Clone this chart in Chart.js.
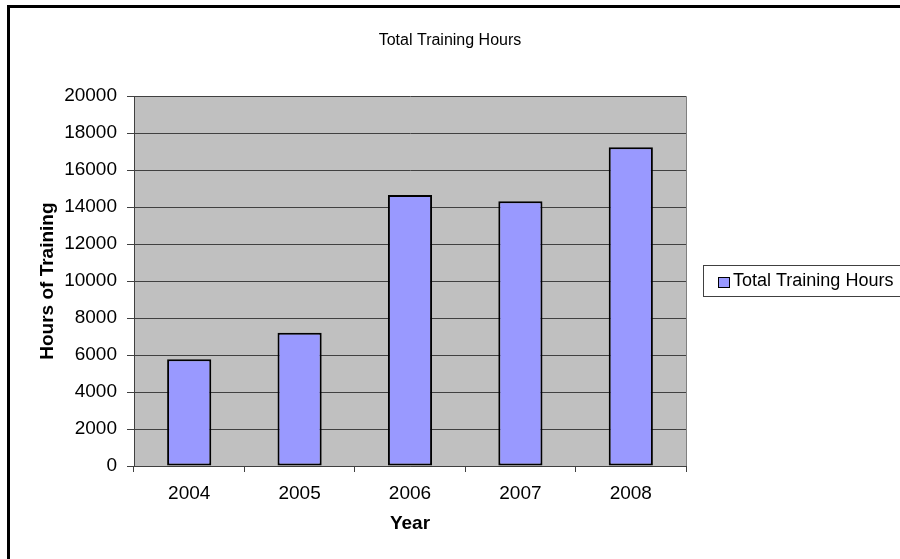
<!DOCTYPE html>
<html>
<head>
<meta charset="utf-8">
<title>Total Training Hours</title>
<script src="https://cdn.jsdelivr.net/npm/chart.js@4/dist/chart.umd.min.js"></script>
<style>
    html, body { margin: 0; padding: 0; background: #fff; overflow: hidden; }
    #frame { position: absolute; left: 7px; top: 5px; width: 1000px; height: 700px; border: 3px solid #000; }
    #chart { position: absolute; left: 0; top: 0; }
</style>
</head>
<body>
<div id="frame"></div>
<canvas id="chart" width="900" height="559"></canvas>
<script>
// Data
const years = ['2004', '2005', '2006', '2007', '2008'];
const trainingHours = [5780, 7200, 14660, 14320, 17240];
const yTicks = [0, 2000, 4000, 6000, 8000, 10000, 12000, 14000, 16000, 18000, 20000];
const seriesName = 'Total Training Hours';

const FONT = "'Liberation Sans', Arial, sans-serif";

// Grey plot background, drawn under the bars
const plotBackground = {
    id: 'plotBackground',
    beforeDraw(chart) {
        const { ctx, chartArea: a } = chart;
        ctx.save();
        ctx.fillStyle = '#c0c0c0';
        ctx.fillRect(a.left, a.top, a.right - a.left, a.bottom - a.top);
        ctx.restore();
    },
    afterDraw(chart) {
        // right edge of the plot frame
        const { ctx, chartArea: a } = chart;
        ctx.save();
        ctx.strokeStyle = '#808080';
        ctx.lineWidth = 1;
        ctx.beginPath();
        ctx.moveTo(a.right + 0.5, a.top);
        ctx.lineTo(a.right + 0.5, a.bottom);
        ctx.stroke();
        ctx.restore();
    }
};

// Boxed legend at the right, like the Excel one
const boxLegend = {
    id: 'boxLegend',
    afterDraw(chart) {
        const { ctx } = chart;
        const ds = chart.data.datasets[0];
        const x = 703, y = 265, h = 31;
        ctx.save();
        ctx.fillStyle = '#fff';
        ctx.fillRect(x, y, 220, h);
        ctx.strokeStyle = '#404040';
        ctx.lineWidth = 1;
        ctx.strokeRect(x + 0.5, y + 0.5, 220, h);
        ctx.fillStyle = ds.backgroundColor;
        ctx.fillRect(718, 277, 11, 10);
        ctx.strokeStyle = '#000';
        ctx.strokeRect(718.5, 277.5, 11, 10);
        ctx.fillStyle = '#000';
        ctx.font = '18px ' + FONT;
        ctx.textBaseline = 'middle';
        ctx.fillText(ds.label, 733, y + h / 2 + 1);
        ctx.restore();
    }
};

new Chart(document.getElementById('chart'), {
    type: 'bar',
    data: {
        labels: years,
        datasets: [{
            label: seriesName,
            data: trainingHours,
            backgroundColor: '#9999ff',
            borderColor: '#000',
            borderWidth: 2,
            borderSkipped: false,
            barPercentage: 0.4,
            categoryPercentage: 1
        }]
    },
    options: {
        responsive: false,
        animation: false,
        devicePixelRatio: 1,
        layout: { padding: 0 },
        plugins: {
            legend: { display: false },
            tooltip: { enabled: false },
            title: {
                display: true,
                text: seriesName,
                color: '#000',
                font: { family: FONT, size: 16, weight: 'normal' },
                padding: { top: 31, bottom: 46 }
            }
        },
        scales: {
            x: {
                afterFit(scale) { scale.height = 93; },
                grid: { display: true, drawOnChartArea: false, drawTicks: true, tickLength: 6, offset: true, color: '#404040' },
                border: { color: '#404040', width: 1 },
                ticks: { color: '#000', font: { family: FONT, size: 19 }, padding: 10 },
                title: {
                    display: true,
                    text: 'Year',
                    color: '#000',
                    font: { family: FONT, size: 19, weight: 'bold' },
                    padding: { top: 0, bottom: 24 }
                }
            },
            y: {
                min: 0,
                max: 20000,
                afterFit(scale) { scale.width = 134; },
                afterBuildTicks(scale) { scale.ticks = yTicks.map(v => ({ value: v })); },
                grid: { color: '#404040', lineWidth: 1, drawTicks: true, tickLength: 7 },
                border: { color: '#404040', width: 1 },
                ticks: { color: '#000', font: { family: FONT, size: 19 }, padding: 10, callback: v => String(v) },
                title: {
                    display: true,
                    text: 'Hours of Training',
                    color: '#000',
                    font: { family: FONT, size: 19, weight: 'bold' },
                    padding: { top: 36, bottom: 0 }
                }
            },
            // empty axis that keeps the legend column free
            legendSpace: {
                position: 'right',
                afterFit(scale) { scale.width = 214; },
                grid: { display: false },
                border: { display: false },
                ticks: { display: false }
            }
        }
    },
    plugins: [plotBackground, boxLegend]
});
</script>
</body>
</html>
